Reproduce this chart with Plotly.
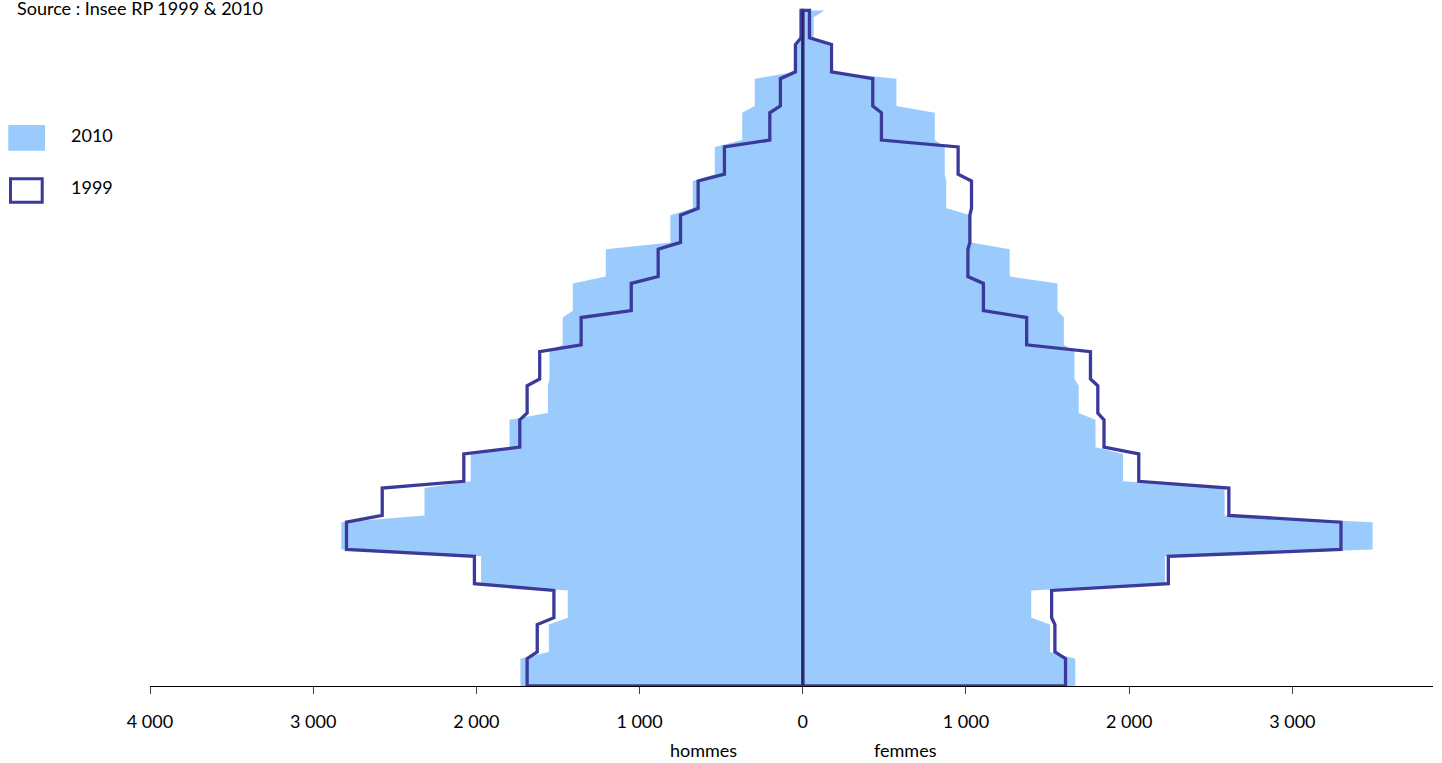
import plotly.graph_objects as go

# Age groups (5-year bands, bottom to top)
groupes = ["0-4", "5-9", "10-14", "15-19", "20-24", "25-29", "30-34", "35-39", "40-44",
           "45-49", "50-54", "55-59", "60-64", "65-69", "70-74", "75-79", "80-84",
           "85-89", "90-94", "95+"]

hommes_1999 = [1689, 1627, 1525, 2012, 2796, 2577, 2077, 1734, 1689, 1612,
               1358, 1051, 886, 749, 641, 480, 202, 137, 45, 10]
femmes_1999 = [1610, 1545, 1525, 2240, 3298, 2611, 2059, 1846, 1808, 1763,
               1372, 1107, 1012, 1024, 1034, 952, 482, 429, 176, 41]
hommes_2010 = [1730, 1556, 1440, 1971, 2828, 2318, 2035, 1797, 1562, 1552,
               1471, 1409, 1207, 811, 674, 539, 371, 294, 40, 20]
femmes_2010 = [1670, 1515, 1400, 2220, 3492, 2585, 1963, 1794, 1691, 1665,
               1600, 1561, 1268, 1030, 879, 870, 809, 574, 165, 67]
femmes_2010_99ans = 133   # last single age (99) value, women 2010

tick_vals = [-4000, -3000, -2000, -1000, 0, 1000, 2000, 3000]
tick_text = ["4 000", "3 000", "2 000", "1 000", "0", "1 000", "2 000", "3 000"]

FILL = "#9BCBFC"
LINE = "#3B3A9B"
CORE = "#1E1E58"


def contour(vals, signe, dernier=None):
    xs, ys = [0], [0]
    for i, v in enumerate(vals):
        xs += [signe * v, signe * v]
        ys += [5 * i, 5 * i + 4]
    if dernier is not None:
        ys[-1] = 5 * (len(vals) - 1) + 3
        xs.append(signe * dernier)
        ys.append(5 * (len(vals) - 1) + 4)
    xs.append(0)
    ys.append(ys[-1])
    return xs, ys


fig = go.Figure()

# 2010 : filled areas
for vals, s, last in [(hommes_2010, -1, None), (femmes_2010, 1, femmes_2010_99ans)]:
    xs, ys = contour(vals, s, last)
    fig.add_trace(go.Scatter(x=xs, y=ys, mode="lines", fill="toself",
                             fillcolor=FILL, line=dict(width=0, color=FILL),
                             hoverinfo="skip", showlegend=False))

# 1999 : outlines
for vals, s in [(hommes_1999, -1), (femmes_1999, 1)]:
    xs, ys = contour(vals, s)
    xs.append(0)
    ys.append(0)
    fig.add_trace(go.Scatter(x=xs, y=ys, mode="lines",
                             line=dict(width=3.3, color=LINE),
                             hoverinfo="skip", showlegend=False))

# dark core of the central axis
top_age = 5 * (len(groupes) - 1) + 4
fig.add_trace(go.Scatter(x=[0, 0], y=[0, top_age], mode="lines",
                         line=dict(width=1.3, color=CORE),
                         hoverinfo="skip", showlegend=False))

L, R, T, B = 150, 9, 7, 77
W, H = 1442, 763
PW, PH = W - L - R, H - T - B


def px(x):
    return (x - L) / PW


def py(y):
    return (H - B - y) / PH


fig.update_layout(
    width=W, height=H,
    margin=dict(l=L, r=R, t=T, b=B),
    plot_bgcolor="white", paper_bgcolor="white",
    showlegend=False,
    font=dict(family="Lato", size=18, color="black"),
    xaxis=dict(range=[-4000, 3862], tickvals=tick_vals, ticktext=tick_text,
               showgrid=False, zeroline=False, showline=True, linecolor="black",
               linewidth=1.3, ticks="outside", ticklen=7, tickcolor="#444444",
               tickwidth=1, ticklabelstandoff=12,
               tickfont=dict(family="Lato", size=18, color="black")),
    yaxis=dict(range=[0, 99.5], showgrid=False, zeroline=False, showline=False,
               showticklabels=False, ticks=""),
)

annotations = [
    dict(text="Source : Insee RP 1999 & 2010", x=px(15), y=py(8), xanchor="left",
         yanchor="middle"),
    dict(text="2010", x=px(69), y=py(135), xanchor="left", yanchor="middle"),
    dict(text="1999", x=px(69), y=py(187), xanchor="left", yanchor="middle"),
    dict(text="hommes", x=px(703), y=py(750), xanchor="center", yanchor="middle"),
    dict(text="femmes", x=px(905), y=py(750), xanchor="center", yanchor="middle"),
]
for a in annotations:
    a.update(xref="paper", yref="paper", showarrow=False,
             font=dict(family="Lato", size=18, color="black"))
fig.update_layout(annotations=annotations)

fig.add_shape(type="rect", xref="paper", yref="paper",
              x0=px(8.3), x1=px(45), y0=py(150.7), y1=py(125),
              fillcolor=FILL, line=dict(width=0))
fig.add_shape(type="rect", xref="paper", yref="paper",
              x0=px(10.5), x1=px(42.2), y0=py(202.2), y1=py(178.8),
              fillcolor="white", line=dict(width=3, color=LINE))

fig.write_html("out.html", config={"displayModeBar": False},
               post_script="document.body.style.margin='0';document.body.style.overflow='hidden';")
